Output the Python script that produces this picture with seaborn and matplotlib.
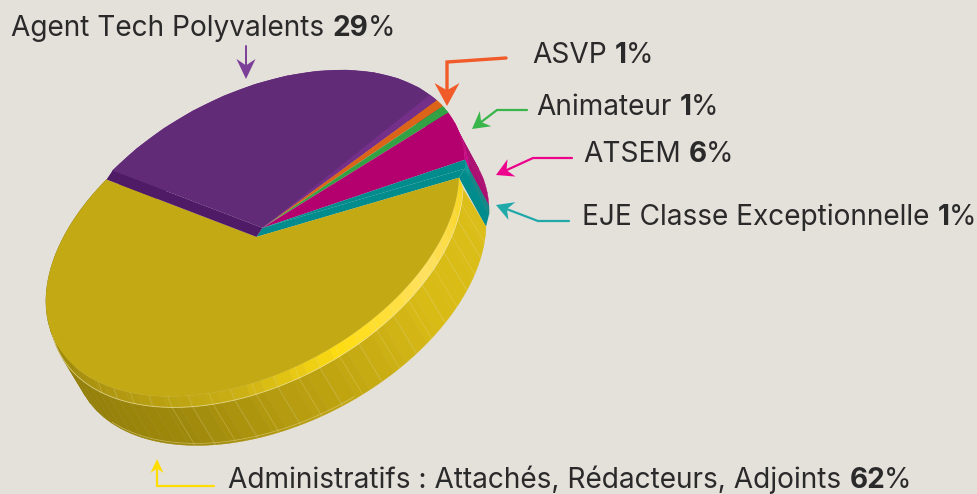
import numpy as np
import matplotlib
matplotlib.use("Agg")
import matplotlib.pyplot as plt
import seaborn as sns

# chart data
labels = ["Agent Tech Polyvalents", "ASVP", "Animateur", "ATSEM", "EJE Classe Exceptionnelle",
          "Administratifs : Attachés, Rédacteurs, Adjoints"]
shares = [29, 1, 1, 6, 1, 62]
share_labels = ["29%", "1%", "1%", "6%", "1%", "62%"]
top_colors = ["#612b78", "#dc6419", "#33a244", "#b4006e", "#008c8c", "#c3aa14"]
rim_colors = ["#743089", "#e06a1e", "#3aa84a", "#cc0a85", "#0a9a9a", "#c3aa14"]
arrow_colors = ["#7b3f98", "#f15a29", "#39b54a", "#ec008c", "#1fa9a9", "#ffdd00"]

BG = "#e4e0da"
INK = "#2b2a2b"
FONT = "Inter"

sns.set_theme(style="white", rc={"figure.facecolor": BG, "axes.facecolor": BG})
plt.rcParams["font.family"] = FONT

fig = plt.figure(figsize=(9.78, 4.94), dpi=100)
ax = fig.add_axes([0, 0, 1, 1])
ax.set_xlim(0, 978)
ax.set_ylim(494, 0)
ax.axis("off")


# camera: maps the unit circle of the pie on to the picture
def fit_camera(src, dst):
    rows = []
    rhs = []
    for (x, y), (u, v) in zip(src, dst):
        rows.append([x, y, 1, 0, 0, 0, -u * x, -u * y])
        rows.append([0, 0, 0, x, y, 1, -v * x, -v * y])
        rhs += [u, v]
    sol = np.linalg.lstsq(np.array(rows, float), np.array(rhs, float), rcond=None)[0]
    return np.append(sol, 1).reshape(3, 3)


def on_circle(deg):
    a = np.radians(deg)
    return np.cos(a), np.sin(a)


angles = np.cumsum([0] + shares) * 360 / sum(shares)
camera = fit_camera(
    [(0, 0), on_circle(0), on_circle(angles[1]), on_circle(angles[5]),
     on_circle(180), on_circle(225), on_circle(270), on_circle(315)],
    [(248, 237), (112, 176), (432, 109), (457, 177),
     (405, 298), (261, 374), (110, 388), (44, 308)],
)


def rim(deg, lift=(0, 0)):
    x, y = on_circle(np.asarray(deg, float))
    p = camera @ np.vstack([x, y, np.ones_like(x)])
    return np.column_stack([p[0] / p[2] + lift[0], p[1] / p[2] + lift[1]])


def centre(lift=(0, 0)):
    p = camera @ np.array([0, 0, 1.0])
    return np.array([p[0] / p[2] + lift[0], p[1] / p[2] + lift[1]])


def draw_band(a0, a1, off0, off1, colors, z=2):
    edges = np.linspace(a0, a1, len(colors) + 1)
    for i, c in enumerate(colors):
        seg = np.linspace(edges[i], edges[i + 1], 4)
        inner = rim(seg, off0)
        outer = rim(seg, off1)
        ax.fill(np.r_[inner[:, 0], outer[::-1, 0]], np.r_[inner[:, 1], outer[::-1, 1]],
                color=c, lw=0.3, ec=c, zorder=z)


def draw_ticks(a0, a1, off0, off1, step, z):
    for a in np.arange(a0 + step, a1, step):
        p = rim([a, a], off0)[0], rim([a, a], off1)[0]
        ax.plot([p[0][0], p[1][0]], [p[0][1], p[1][1]], color="#e8dfa0", lw=0.5, alpha=0.35, zorder=z)


BEVEL = (4, 11)
SIDE = (27, 49)
RAISED = (6, -9)

# sides of the small slices and the purple one, back to front
for i in range(5):
    a0, a1 = angles[i], angles[i + 1]
    draw_band(a0, a1, (RAISED[0] + 4, RAISED[1] + 9), (RAISED[0] + 24, RAISED[1] + 46),
              [sns.dark_palette(rim_colors[i], n_colors=6, reverse=True)[1]] * 4, z=2)
    draw_band(a0, a1, RAISED, (RAISED[0] + 4, RAISED[1] + 9), [rim_colors[i]] * 4, z=3)

# teal wall closes the gap above the yellow slice
a5 = angles[5]
wall = np.vstack([rim([a5], RAISED), rim([a5], (RAISED[0] + 24, RAISED[1] + 46)), rim([a5], SIDE), rim([a5])])
ax.fill(wall[:, 0], wall[:, 1], color=top_colors[4], lw=0, zorder=3.5)

# yellow side wall then its bevelled lip
yellow = angles[5], angles[6]
side_cols = sns.blend_palette(["#dcbe18", "#d9bb16", "#bca110", "#a08a0c", "#94800a", "#94800a", "#8f7a08"], n_colors=56)
lip_cols = sns.blend_palette(["#f7d51c", "#ffe060", "#ffdd12", "#c9ae14", "#b39a10", "#a08a0c", "#94800a", "#8f7a08"], n_colors=56)
draw_band(*yellow, BEVEL, SIDE, side_cols, z=4)
draw_ticks(yellow[0], 255, BEVEL, SIDE, 6, 4.5)
draw_band(*yellow, (0, 0), BEVEL, lip_cols, z=5)
draw_ticks(yellow[0], 280, (0, 0), BEVEL, 6, 5.5)
lower = rim(np.linspace(yellow[0], 320, 120), BEVEL)
ax.plot(lower[:, 0], lower[:, 1], color="#efe7b0", lw=0.6, alpha=0.7, zorder=5.6)
base = rim(np.linspace(205, 280, 60), (SIDE[0] - 1, SIDE[1] - 2))
ax.plot(base[:, 0], base[:, 1], color="#efe7b0", lw=0.5, alpha=0.5, zorder=5.6)

# top faces
for i in range(6):
    lift = (0, 0) if i == 5 else RAISED
    arc = rim(np.linspace(angles[i], angles[i + 1], 120), lift)
    c = centre(lift)
    ax.fill(np.r_[c[0], arc[:, 0]], np.r_[c[1], arc[:, 1]], color=top_colors[i], lw=0, zorder=6)

# lighter edge of the purple slice, dark wall next to yellow, teal wall on the other side
arc = rim(np.linspace(angles[1] - 3.5, angles[1], 10), RAISED)
c = centre(RAISED)
ax.fill(np.r_[c[0], arc[:, 0]], np.r_[c[1], arc[:, 1]], color=rim_colors[0], lw=0, zorder=7)
edge = np.vstack([rim([angles[0]], RAISED), [c], [centre()], rim([angles[0]])])
ax.fill(edge[:, 0], edge[:, 1], color="#4f1a66", lw=0, zorder=7)
edge = np.vstack([rim([angles[5]], RAISED), [c], [centre()], rim([angles[5]])])
ax.fill(edge[:, 0], edge[:, 1], color=top_colors[4], lw=0, zorder=5.8)


def arrow(points, color, head_len=16, head_w=16, lw=1.8):
    pts = np.array(points, float)
    tip = pts[-1]
    d = tip - pts[-2]
    d = d / np.hypot(*d)
    n = np.array([-d[1], d[0]])
    base = tip - d * head_len
    notch = tip - d * head_len * 0.68
    ax.plot(*np.vstack([pts[:-1], notch]).T, color=color, lw=lw, solid_joinstyle="miter", zorder=8)
    head = np.array([tip, base + n * head_w / 2, notch, base - n * head_w / 2])
    ax.fill(head[:, 0], head[:, 1], color=color, lw=0, zorder=8)


arrow([(246, 46), (246, 79)], arrow_colors[0], 20, 19, 1.4)
arrow([(506, 58), (447, 62), (447, 106)], arrow_colors[1], 23, 25, 2.4)
arrow([(527, 110), (497, 110), (472, 129)], arrow_colors[2], 17, 19, 1.6)
arrow([(572, 158), (533, 158), (496, 175)], arrow_colors[3], 17, 19, 1.6)
arrow([(569, 221), (538, 221), (496, 205)], arrow_colors[4], 17, 19, 1.6)
arrow([(214, 486), (157, 486), (157, 459)], arrow_colors[5], 14, 13, 1.6)


def label(x, y, name, value, size=20.2):
    t = ax.text(x, y, name, fontsize=size, color=INK, va="baseline", ha="left", zorder=9)
    fig.canvas.draw()
    box = t.get_window_extent().transformed(ax.transData.inverted())
    n = ax.text(box.x1 + size * 0.42, y, value[:-1], fontsize=size, color=INK, weight="bold", va="baseline", zorder=9)
    box2 = n.get_window_extent().transformed(ax.transData.inverted())
    ax.text(box2.x1 - 1, y, "%", fontsize=size, color=INK, va="baseline", zorder=9)


label_pos = [(11, 36), (532, 63), (536, 115), (583, 162), (582, 225), (228, 488)]
for (x, y), name, val in zip(label_pos, labels, share_labels):
    label(x, y, name, val)

fig.savefig("out.png", dpi=100, facecolor=BG)
